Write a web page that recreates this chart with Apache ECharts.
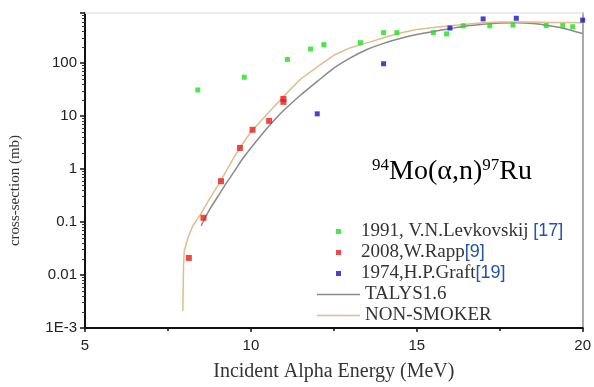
<!DOCTYPE html>
<html><head><meta charset="utf-8">
<script src="https://cdn.jsdelivr.net/npm/echarts@6/dist/echarts.min.js"></script>
<style>html,body{margin:0;padding:0;background:#fff}#c{width:594px;height:387px}</style>
</head><body><div id="c"></div>
<script>
// ---- data ----
const levkovskijE  = [8.4, 9.8, 11.1, 11.8, 12.2, 13.3, 14.0, 14.4, 15.5, 15.9, 16.4, 17.2, 17.9, 18.9, 19.4, 19.7];
const levkovskijXS = [31, 54, 117, 184, 222, 242, 375, 375, 375, 355, 505, 505, 520, 510, 510, 485];
const rappE  = [8.13, 8.57, 9.1, 9.67, 10.05, 10.55, 10.98, 10.98];
const rappXS = [0.021, 0.12, 0.59, 2.5, 5.5, 8.1, 21, 18.5];
const graftE  = [12.0, 14.0, 16.0, 17.0, 18.0, 20.0];
const graftXS = [11, 97, 458, 680, 700, 645];
const talysE  = [8.5, 8.75, 9.0, 9.25, 9.5, 9.75, 10.0, 10.25, 10.5, 10.75, 11.0, 11.5, 12.0, 12.5, 13.0, 13.5, 14.0, 14.5, 15.0, 15.5, 16.0, 16.5, 17.0, 17.5, 18.0, 18.5, 19.0, 19.5, 20.0];
const talysXS = [0.085, 0.17, 0.3, 0.53, 0.9, 1.56, 2.5, 3.9, 6.0, 9.0, 13, 25, 45, 80, 125, 180, 235, 290, 345, 395, 445, 500, 540, 570, 575, 555, 505, 440, 360];
const nonSmokerE  = [7.95, 7.96, 7.97, 7.99, 8.1, 8.25, 8.5, 8.75, 9.0, 9.25, 9.5, 9.75, 10.0, 10.5, 11.0, 11.5, 12.0, 12.5, 13.0, 13.5, 14.0, 14.5, 15.0, 15.5, 16.0, 16.5, 17.0, 17.5, 18.0, 18.5, 19.0, 19.5, 20.0];
const nonSmokerXS = [0.0021, 0.006, 0.015, 0.028, 0.05, 0.085, 0.145, 0.27, 0.48, 0.9, 1.7, 3.0, 5.0, 11, 24, 50, 85, 140, 195, 240, 300, 370, 430, 470, 505, 540, 575, 595, 595, 595, 585, 580, 575];
const yTickValues = [0.001, 0.01, 0.1, 1, 10, 100];
const yTickLabels = ['1E-3', '0.01', '0.1', '1', '10', '100'];
const xTickValues = [5, 10, 15, 20];
const seriesNames = ['1991, V.N.Levkovskij [17]', '2008,W.Rapp[9]', '1974,H.P.Graft[19]', 'TALYS1.6', 'NON-SMOKER'];

const zip = (a, b) => a.map((v, i) => [v, b[i]]);

function yLabel(v) {
  for (let i = 0; i < yTickValues.length; i++) {
    if (Math.abs(Math.log10(v) - Math.log10(yTickValues[i])) < 0.01) return yTickLabels[i];
  }
  return '';
}
function legendFmt(name) {
  return name.replace(/(\[\d+\])/, '{b|$1}');
}
const serif = "'Liberation Serif', 'Times New Roman', serif";
const sans = "'Liberation Sans', Arial, sans-serif";
const legendText = {
  fontFamily: serif, fontSize: 19, color: '#333', lineHeight: 21,
  rich: { b: { fontFamily: sans, fontSize: 18, color: '#2450b0', lineHeight: 21 } }
};

const chart = echarts.init(document.getElementById('c'), null, {renderer: 'canvas'});
chart.setOption({
  animation: false,
  backgroundColor: '#fff',
  grid: { left: 83, right: 10, top: 13, bottom: 53, containLabel: false },
  xAxis: [{
    type: 'value', min: xTickValues[0], max: xTickValues[xTickValues.length - 1], interval: 5,
    name: 'Incident Alpha Energy (MeV)', nameLocation: 'middle', nameGap: 34,
    nameTextStyle: { fontFamily: serif, fontSize: 20, color: '#333' },
    axisLine: { lineStyle: { color: '#111', width: 2 } },
    axisTick: { show: true, length: 4, lineStyle: { color: '#111', width: 1.5 } },
    minorTick: { show: true, splitNumber: 2, length: 3, lineStyle: { color: '#111', width: 1.5 } },
    axisLabel: { fontFamily: sans, fontSize: 15, color: '#222', margin: 10 },
    splitLine: { show: false }
  }, {
    type: 'value', position: 'top', min: 5, max: 20,
    axisLine: { show: true, onZero: false, lineStyle: { color: '#e6e6e6', width: 1.5 } },
    axisTick: { show: false }, axisLabel: { show: false }, splitLine: { show: false }
  }],
  yAxis: [{
    type: 'log', logBase: 10, min: 0.001, max: 880,
    name: 'cross-section (mb)', nameLocation: 'middle', nameGap: 62,
    nameTextStyle: { fontFamily: serif, fontSize: 15, color: '#333', padding: [0, 40, 0, 0] },
    axisLine: { show: true, lineStyle: { color: '#111', width: 2 } },
    axisTick: { show: true, length: 5, lineStyle: { color: '#111', width: 1.5 } },
    minorTick: { show: true, splitNumber: 9, length: 3, lineStyle: { color: '#333', width: 1 } },
    axisLabel: { fontFamily: sans, fontSize: 15, color: '#222', margin: 8, formatter: yLabel, showMaxLabel: false },
    splitLine: { show: false }, minorSplitLine: { show: false }
  }, {
    type: 'log', position: 'right', min: 0.001, max: 880,
    axisLine: { show: true, lineStyle: { color: '#aaa', width: 2 } },
    axisTick: { show: false }, axisLabel: { show: false }, splitLine: { show: false }
  }],
  legend: [{
    data: seriesNames.slice(0, 3), orient: 'vertical', left: 331, top: 216,
    itemWidth: 5, itemHeight: 5, itemGap: 0, icon: 'rect',
    textStyle: Object.assign({}, legendText, { padding: [0, 0, 0, 15] }),
    formatter: legendFmt
  }, {
    data: seriesNames.slice(3), orient: 'vertical', left: 312, top: 279,
    itemWidth: 43, itemHeight: 1.5, itemGap: 0,
    icon: 'path://M0,0L43,0L43,1.5L0,1.5Z',
    textStyle: legendText
  }],
  graphic: [{
    type: 'text', left: 372, top: 157,
    style: {
      text: '{s|94}{m|Mo(α,n)}{s|97}{m|Ru}',
      rich: {
        s: { fontFamily: serif, fontSize: 17, color: '#222', verticalAlign: 'top', lineHeight: 30 },
        m: { fontFamily: serif, fontSize: 28, color: '#222', lineHeight: 30 }
      }
    }
  }],
  series: [{
    name: seriesNames[0], type: 'scatter', symbol: 'rect', symbolSize: 5,
    itemStyle: { color: '#1ee01e' }, data: zip(levkovskijE, levkovskijXS), z: 5
  }, {
    name: seriesNames[1], type: 'scatter', symbol: 'rect', symbolSize: 6,
    itemStyle: { color: '#ea1b1b' }, data: zip(rappE, rappXS), z: 5
  }, {
    name: seriesNames[2], type: 'scatter', symbol: 'rect', symbolSize: 5,
    itemStyle: { color: '#1515c0' }, data: zip(graftE, graftXS), z: 5
  }, {
    name: seriesNames[3], type: 'line', symbol: 'none', smooth: 0.2,
    lineStyle: { color: '#8a8a8a', width: 1.5 }, itemStyle: { color: '#8a8a8a' },
    data: zip(talysE, talysXS), z: 3
  }, {
    name: seriesNames[4], type: 'line', symbol: 'none', smooth: false,
    lineStyle: { color: '#e2bd8c', width: 1.5 }, itemStyle: { color: '#e2bd8c' },
    data: zip(nonSmokerE, nonSmokerXS), z: 3
  }]
});
</script></body></html>
